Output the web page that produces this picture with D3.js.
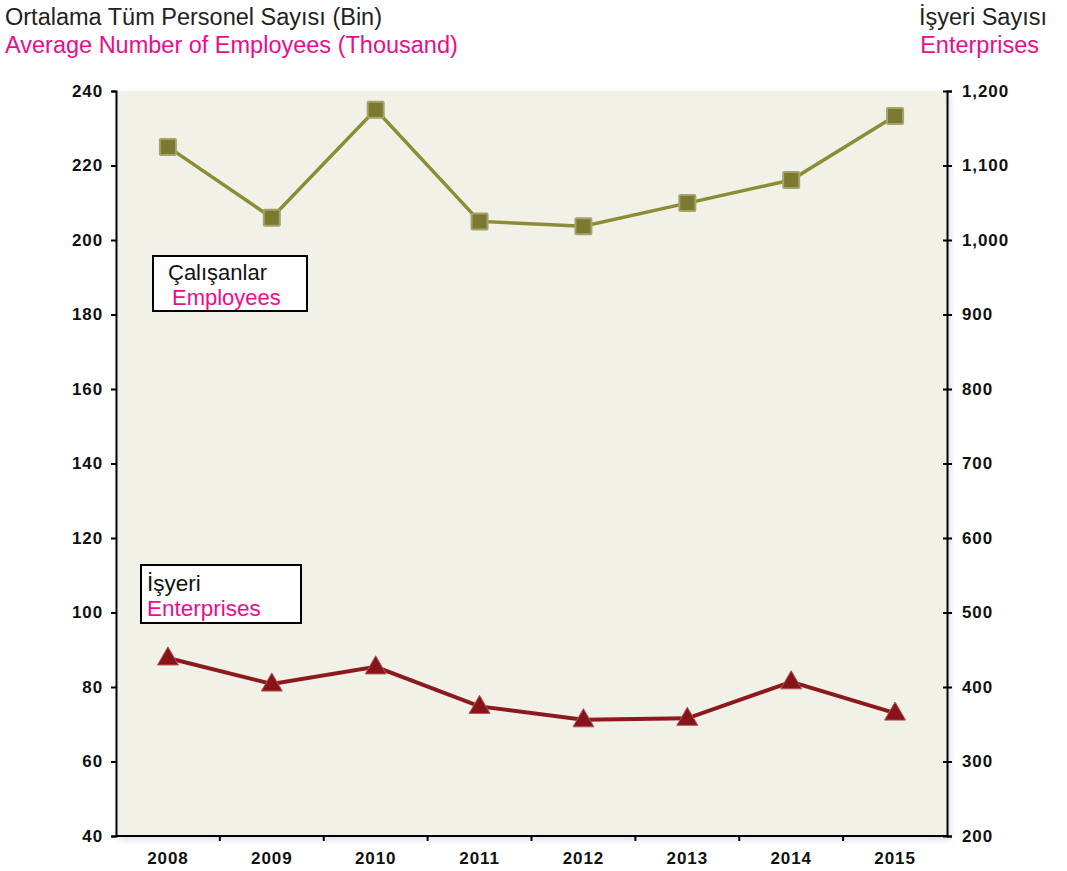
<!DOCTYPE html>
<html><head><meta charset="utf-8">
<script src="https://cdn.jsdelivr.net/npm/d3@7"></script>
<style>body{margin:0;background:#fff}svg{display:block}text{font-family:"Liberation Sans",Arial,sans-serif}</style>
</head><body><svg id="c" width="1067" height="871"></svg>
<script>
const years = ["2008","2009","2010","2011","2012","2013","2014","2015"];
const employees = [225, 206, 235, 205, 203.7, 209.9, 216.1, 233.3];
const enterprises = [439, 404, 427, 374, 356, 358, 407, 365];
const leftTicks = [40,60,80,100,120,140,160,180,200,220,240];
const rightTicks = [200,300,400,500,600,700,800,900,1000,1100,1200];

const svg = d3.select("#c");
const L = 116, R = 947, T = 91, B = 836;
const pink = "#ec0c8c";

const x = d3.scaleBand().domain(years).range([L, R]);
const yL = d3.scaleLinear().domain([40, 240]).range([B, T]);
const yR = d3.scaleLinear().domain([200, 1200]).range([B, T]);

const defs = svg.append("defs");
const f = defs.append("filter").attr("id","sh").attr("x","-5%").attr("y","-5%").attr("width","110%").attr("height","110%");
f.append("feDropShadow").attr("dx",3).attr("dy",3).attr("stdDeviation",3).attr("flood-color","#c8cfe0").attr("flood-opacity",0.8);

svg.append("rect").attr("x",L).attr("y",T).attr("width",R-L).attr("height",B-T).attr("fill","#f2f1e8").attr("filter","url(#sh)");

// axes
const gl = svg.append("g").attr("transform",`translate(${L},0)`)
  .call(d3.axisLeft(yL).tickValues(leftTicks).tickSize(5).tickPadding(8));
const gr = svg.append("g").attr("transform",`translate(${R},0)`)
  .call(d3.axisRight(yR).tickValues(rightTicks).tickFormat(d3.format(",")).tickSize(5).tickPadding(10));
gr.selectAll(".tick line").attr("x1",-4);
const gb = svg.append("g").attr("transform",`translate(0,${B})`)
  .call(d3.axisBottom(x).tickSize(0).tickPadding(16));
[gl,gr,gb].forEach(g=>{
  g.select(".domain").attr("stroke","#000").attr("stroke-width",2);
  g.selectAll(".tick line").attr("stroke","#000").attr("stroke-width",2);
  g.selectAll(".tick text").attr("font-size",17).attr("font-weight","bold").attr("fill","#111")
    .attr("letter-spacing","0.9px")
    .style("font-family","'Liberation Sans',Arial,sans-serif");
});
gb.select(".domain").attr("d",`M${L},0H${R}`);
// category boundary ticks
gb.selectAll(".bt").data(years.slice(1)).enter().append("line")
  .attr("x1",d=>x(d)).attr("x2",d=>x(d)).attr("y1",0).attr("y2",5)
  .attr("stroke","#000").attr("stroke-width",2);

const cx = d => x(d) + x.bandwidth()/2;

// employees line
svg.append("path").datum(employees)
  .attr("d", d3.line().x((d,i)=>cx(years[i])).y(d=>yL(d)))
  .attr("fill","none").attr("stroke","#8b8d35").attr("stroke-width",3.5);
svg.selectAll(".sq").data(employees).enter().append("rect")
  .attr("x",(d,i)=>cx(years[i])-8).attr("y",d=>yL(d)-8).attr("width",16).attr("height",16)
  .attr("fill","#7b7a30").attr("stroke","#a4a46a").attr("stroke-width",2).attr("rx",1);

// enterprises line
svg.append("path").datum(enterprises)
  .attr("d", d3.line().x((d,i)=>cx(years[i])).y(d=>yR(d)))
  .attr("fill","none").attr("stroke","#8c1a1d").attr("stroke-width",4);
const tri = d3.symbol().type(d3.symbolTriangle).size(190);
svg.selectAll(".tr").data(enterprises).enter().append("path")
  .attr("d",tri).attr("transform",(d,i)=>`translate(${cx(years[i])},${yR(d)+1})`)
  .attr("fill","#871419").attr("stroke","#b0565a").attr("stroke-width",1);

// titles
svg.append("text").attr("x",5).attr("y",25).attr("font-size",23.5).attr("fill","#222").text("Ortalama Tüm Personel Sayısı (Bin)");
svg.append("text").attr("x",5).attr("y",53).attr("font-size",23.5).attr("fill",pink).text("Average Number of Employees (Thousand)");
svg.append("text").attr("x",1047).attr("y",25).attr("font-size",23.5).attr("fill","#222").attr("text-anchor","end").text("İşyeri Sayısı");
svg.append("text").attr("x",1039).attr("y",53).attr("font-size",23.5).attr("fill",pink).attr("text-anchor","end").text("Enterprises");

// labels boxes
svg.append("rect").attr("x",153).attr("y",256).attr("width",154).attr("height",55).attr("fill","#fff").attr("stroke","#000").attr("stroke-width",2);
svg.append("text").attr("x",168).attr("y",280).attr("font-size",22).attr("fill","#111").text("Çalışanlar");
svg.append("text").attr("x",172).attr("y",305).attr("font-size",22).attr("fill",pink).text("Employees");
svg.append("rect").attr("x",141).attr("y",565).attr("width",160).attr("height",58).attr("fill","#fff").attr("stroke","#000").attr("stroke-width",2);
svg.append("text").attr("x",147).attr("y",591).attr("font-size",22.5).attr("fill","#111").text("İşyeri");
svg.append("text").attr("x",147).attr("y",616).attr("font-size",22.5).attr("fill",pink).text("Enterprises");
</script></body></html>
